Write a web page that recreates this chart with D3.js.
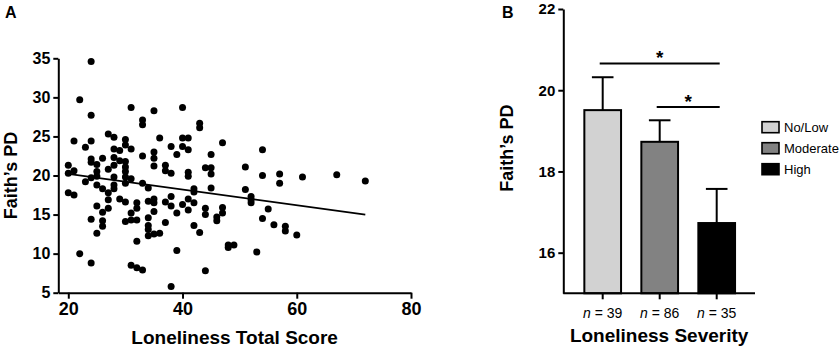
<!DOCTYPE html>
<html>
<head>
<meta charset="utf-8">
<script src="https://cdn.jsdelivr.net/npm/d3@7"></script>
<style>
  html, body { margin: 0; padding: 0; background: #fff; }
  svg { display: block; font-family: "Liberation Sans", Arial, Helvetica, sans-serif; }
</style>
</head>
<body>
<svg id="chart" width="840" height="349"></svg>
<script>
// ---- Panel A: loneliness total score vs Faith's PD (one dot per participant) ----
const lonelinessScore = [
  20,20,20, 21,21,21, 22,22, 23,23,
  24,24,24,24,24,24,24,24,
  25,25,25,25,25,25,
  26,26,26,26,26,
  27,27,27,27,27,
  28,28,28,28,28,28,28,
  29,29,29,
  30,30,30,30,30,30,30,30,30,
  31,31,31,31,31,31,
  32,32,32,32,32,
  33,33,33,33,33,
  34,34,34,34,34,34,
  35,35,35,35,35,35,35,35,
  36,36, 37,37,37,37,
  38,38,38,38,38, 39,39,39,
  40,40,40,40, 41,41,41,41,41,41,
  42,42,42,42, 43,43,43, 44,44,44,44,
  45,45,45,45, 46,46, 47,47,47, 48,48, 49,
  51,51, 52,52,52, 53, 54,54,54, 55, 56, 57,57, 58,58, 60, 61, 67, 72
];
const faithPD = [
  21.3,20.3,17.8, 24.4,20.6,17.5, 29.7,10.0, 23.6,19.2,
  34.6,27.7,24.4,22.1,21.7,19.7,14.4,8.8,
  21.4,20.5,19.9,18.8,16.1,12.6,
  22.2,18.3,15.3,14.2,13.5,
  25.3,20.8,17.8,16.9,15.8,
  24.9,23.4,22.3,21.3,19.8,18.8,18.3,
  23.2,21.9,17.0,
  24.6,23.9,21.8,21.1,20.5,19.8,19.0,16.6,14.1,
  28.7,23.4,19.6,15.2,14.3,8.5,
  16.5,15.8,14.3,11.6,8.2,
  27.1,26.5,22.5,19.0,7.9,
  18.4,16.7,14.6,13.6,13.1,12.3,
  28.3,23.0,22.2,21.2,17.0,16.5,15.4,12.5,
  24.8,12.6, 21.3,20.6,16.6,14.0,
  23.7,20.3,17.3,16.1,5.8, 22.7,15.2,10.4,
  28.7,24.8,23.7,16.3, 24.8,23.3,20.4,19.9,17.0,15.6,
  18.3,17.9,16.5,13.6, 26.7,26.1,12.7, 21.0,15.8,15.0,7.8,
  22.7,21.0,20.2,18.4, 14.7,14.2, 24.2,15.9,15.2, 11.1,10.8, 11.1,
  21.1,18.2, 17.3,16.9,16.5, 10.2, 23.3,20.0,14.5, 15.7, 13.7, 20.2,19.0, 13.5,12.9, 12.4, 19.8, 20.1, 19.3
];
// Fitted regression line (score, Faith's PD) at its two ends
const trendLine = [[20, 20.2], [72, 15.0]];
const scoreTicks = [20, 40, 60, 80];
const pdTicksA = [5, 10, 15, 20, 25, 30, 35];

// ---- Panel B: mean Faith's PD by loneliness severity (error bar = SEM) ----
const severityGroups = ["No/Low", "Moderate", "High"];
const groupMeans = [19.51, 18.73, 16.73];
const groupErrors = [0.81, 0.53, 0.84];
const groupCounts = [39, 86, 35];
const groupColors = ["#d2d2d2", "#828282", "#000000"];
const pdTicksB = [16, 18, 20, 22];
const comparisons = [
  { from: "No/Low", to: "High", level: 20.66 },
  { from: "Moderate", to: "High", level: 19.59 }
];

const svg = d3.select("#chart");
const FONT = '"Liberation Sans", Arial, Helvetica, sans-serif';

function styleAxis(g, fontSize) {
  g.select(".domain").attr("stroke", "#000").attr("stroke-width", 2);
  g.selectAll(".tick line").attr("stroke", "#000").attr("stroke-width", 2);
  g.selectAll(".tick text")
    .attr("fill", "#000")
    .attr("font-family", FONT)
    .attr("font-weight", "bold")
    .attr("font-size", fontSize);
}

// ================= Panel A =================
const A = { left: 58.3, right: 411, top: 58.3, bottom: 292.7 };
const xA = d3.scaleLinear().domain([18.25, 80]).range([A.left, A.right]);
const yA = d3.scaleLinear().domain([5, 35]).range([A.bottom, A.top]);

const gA = svg.append("g");

gA.append("g")
  .attr("transform", `translate(0,${A.bottom})`)
  .call(d3.axisBottom(xA).tickValues(scoreTicks).tickFormat(d3.format("d"))
    .tickSize(6).tickSizeOuter(0).tickPadding(4))
  .call(g => styleAxis(g, 18));

gA.append("g")
  .attr("transform", `translate(${A.left},0)`)
  .call(d3.axisLeft(yA).tickValues(pdTicksA).tickFormat(d3.format("d"))
    .tickSize(5).tickSizeOuter(0).tickPadding(3))
  .call(g => styleAxis(g, 16));

gA.append("g")
  .selectAll("circle")
  .data(lonelinessScore.map((s, i) => [s, faithPD[i]]))
  .join("circle")
  .attr("cx", d => xA(d[0]))
  .attr("cy", d => yA(d[1]))
  .attr("r", 3.5)
  .attr("fill", "#000");

gA.append("path")
  .datum(trendLine)
  .attr("d", d3.line().x(d => xA(d[0])).y(d => yA(d[1])))
  .attr("fill", "none")
  .attr("stroke", "#000")
  .attr("stroke-width", 1.8);

gA.append("text")
  .attr("x", (A.left + A.right) / 2)
  .attr("y", 344)
  .attr("text-anchor", "middle")
  .attr("font-weight", "bold")
  .attr("font-size", 19)
  .text("Loneliness Total Score");

gA.append("text")
  .attr("transform", `translate(17,${(A.top + A.bottom) / 2}) rotate(-90)`)
  .attr("text-anchor", "middle")
  .attr("font-weight", "bold")
  .attr("font-size", 18)
  .text("Faith\u2019s PD");

gA.append("text")
  .attr("x", 5).attr("y", 18)
  .attr("font-weight", "bold")
  .attr("font-size", 16)
  .text("A");

// ================= Panel B =================
const B = { left: 563.3, right: 755, top: 9, bottom: 293.3 };
const xB = d3.scaleBand().domain(severityGroups).range([574.2, 745.2])
  .paddingInner(0.356).paddingOuter(0.178);
const yB = d3.scaleLinear().domain([15, 22]).range([B.bottom, B.top]);
const cx = g => xB(g) + xB.bandwidth() / 2;

const gB = svg.append("g");

// bars
gB.append("g")
  .selectAll("rect")
  .data(severityGroups)
  .join("rect")
  .attr("x", g => xB(g))
  .attr("y", (g, i) => yB(groupMeans[i]))
  .attr("width", xB.bandwidth())
  .attr("height", (g, i) => yB(15) - yB(groupMeans[i]))
  .attr("fill", (g, i) => groupColors[i])
  .attr("stroke", "#000")
  .attr("stroke-width", 2);

// error bars (upper only)
const capHalf = 10.8;
const eb = gB.append("g").attr("stroke", "#000").attr("stroke-width", 2);
severityGroups.forEach((g, i) => {
  const top = yB(groupMeans[i] + groupErrors[i]);
  eb.append("line")
    .attr("x1", cx(g)).attr("x2", cx(g))
    .attr("y1", yB(groupMeans[i])).attr("y2", top);
  eb.append("line")
    .attr("x1", cx(g) - capHalf).attr("x2", cx(g) + capHalf)
    .attr("y1", top).attr("y2", top);
});

// axes
const xAxisB = gB.append("g")
  .attr("transform", `translate(0,${B.bottom})`)
  .call(d3.axisBottom(xB).tickSize(6).tickSizeOuter(0).tickFormat(""));
xAxisB.select(".domain").remove();
xAxisB.selectAll(".tick line").attr("stroke", "#000").attr("stroke-width", 2);
gB.append("line")
  .attr("x1", B.left).attr("x2", B.right)
  .attr("y1", B.bottom).attr("y2", B.bottom)
  .attr("stroke", "#000").attr("stroke-width", 2);

gB.append("g")
  .attr("transform", `translate(${B.left},0)`)
  .call(d3.axisLeft(yB).tickValues(pdTicksB).tickFormat(d3.format("d"))
    .tickSize(5).tickSizeOuter(0).tickPadding(3))
  .call(g => styleAxis(g, 15));

// n labels
severityGroups.forEach((g, i) => {
  const t = gB.append("text")
    .attr("x", cx(g)).attr("y", 318)
    .attr("text-anchor", "middle")
    .attr("font-size", 14);
  t.append("tspan").attr("font-style", "italic").text("n");
  t.append("tspan").text(" = " + groupCounts[i]);
});

// significance brackets
comparisons.forEach(c => {
  const x1 = cx(c.from) - 3, x2 = cx(c.to) + 3, y = yB(c.level);
  gB.append("line")
    .attr("x1", x1).attr("x2", x2).attr("y1", y).attr("y2", y)
    .attr("stroke", "#000").attr("stroke-width", 2);
  gB.append("text")
    .attr("x", (x1 + x2) / 2).attr("y", y + 1)
    .attr("text-anchor", "middle")
    .attr("font-weight", "bold")
    .attr("font-size", 19)
    .text("*");
});

// legend
const legend = gB.append("g").attr("transform", "translate(762,121.7)");
severityGroups.forEach((g, i) => {
  const row = legend.append("g").attr("transform", `translate(0,${i * 21})`);
  row.append("rect")
    .attr("width", 17).attr("height", 11)
    .attr("fill", groupColors[i])
    .attr("stroke", "#000").attr("stroke-width", 1.6);
  row.append("text")
    .attr("x", 22).attr("y", 9.8)
    .attr("font-size", 13)
    .text(g);
});

gB.append("text")
  .attr("x", (B.left + B.right) / 2)
  .attr("y", 341.5)
  .attr("text-anchor", "middle")
  .attr("font-weight", "bold")
  .attr("font-size", 19)
  .text("Loneliness Severity");

gB.append("text")
  .attr("transform", `translate(513,${(B.top + B.bottom) / 2 - 3}) rotate(-90)`)
  .attr("text-anchor", "middle")
  .attr("font-weight", "bold")
  .attr("font-size", 18)
  .text("Faith\u2019s PD");

gB.append("text")
  .attr("x", 502).attr("y", 18)
  .attr("font-weight", "bold")
  .attr("font-size", 16)
  .text("B");
</script>
</body>
</html>
